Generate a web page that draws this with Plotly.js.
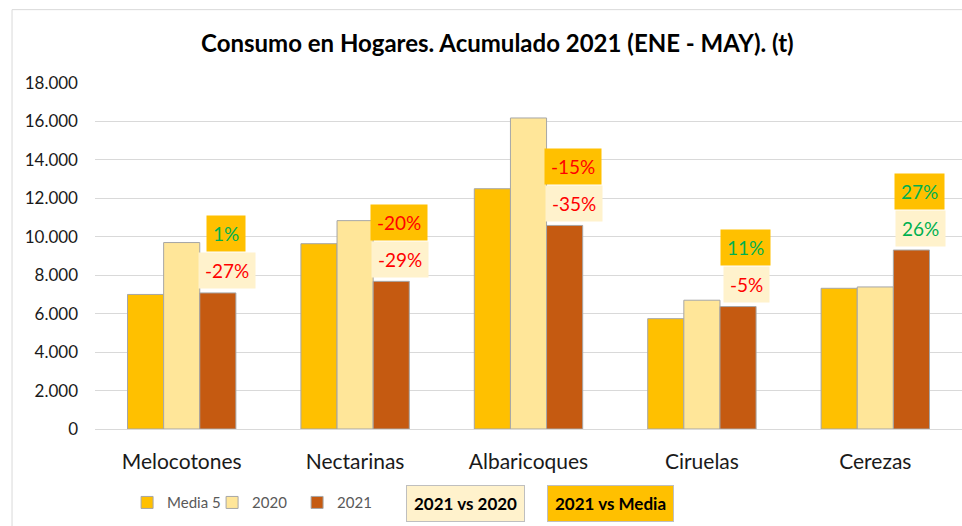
<!DOCTYPE html>
<html>
<head>
<meta charset="utf-8">
<script src="https://cdn.plot.ly/plotly-3.0.1.min.js"></script>
<style>
  html, body { margin: 0; padding: 0; background: #fff; }
  #chart { width: 962px; height: 526px; }
</style>
</head>
<body>
<div id="chart"></div>
<script>
// datos (toneladas)
const categories = ["Melocotones", "Nectarinas", "Albaricoques", "Ciruelas", "Cerezas"];
const media5 = [7000, 9640, 12500, 5740, 7320];
const y2020 = [9700, 10840, 16180, 6700, 7390];
const y2021 = [7080, 7680, 10590, 6370, 9310];
const vs2020Labels = ["-27%", "-29%", "-35%", "-5%", "26%"];
const vsMediaLabels = ["1%", "-20%", "-15%", "11%", "27%"];
const yTicks = [0, 2000, 4000, 6000, 8000, 10000, 12000, 14000, 16000, 18000];

const FONT = "Lato, 'Open Sans', sans-serif";
const barLine = { color: "#A6A6A6", width: 1 };

function labelColor(t) {
  return t.startsWith("-") ? "#FF0000" : "#00B050";
}

const traces = [
  { name: "Media 5", x: categories, y: media5, type: "bar", marker: { color: "#FFC000", line: barLine } },
  { name: "2020", x: categories, y: y2020, type: "bar", marker: { color: "#FFE699", line: barLine } },
  { name: "2021", x: categories, y: y2021, type: "bar", marker: { color: "#C55A11", line: barLine } },
];

// etiquetas de variacion encima de la barra 2021
const annotations = [];
categories.forEach((cat, i) => {
  annotations.push({
    x: cat, y: y2021[i], xref: "x", yref: "y",
    xshift: 45, yshift: 22, yanchor: "middle",
    text: vs2020Labels[i], showarrow: false,
    font: { family: FONT, size: 19, color: labelColor(vs2020Labels[i]) },
    bgcolor: "#FFF2CC", borderpad: 6,
  });
  annotations.push({
    x: cat, y: y2021[i], xref: "x", yref: "y",
    xshift: 44, yshift: 59, yanchor: "middle",
    text: vsMediaLabels[i], showarrow: false,
    font: { family: FONT, size: 19, color: labelColor(vsMediaLabels[i]) },
    bgcolor: "#FFC000", borderpad: 6,
  });
});

// cajas de leyenda de las etiquetas
annotations.push({
  x: 0.427, y: -0.215, xref: "paper", yref: "paper", showarrow: false,
  xanchor: "center", yanchor: "middle",
  text: "<b>2021 vs 2020</b>", font: { family: FONT, size: 17, color: "#000" },
  bgcolor: "#FFF2CC", bordercolor: "#BFBFBF", borderwidth: 1, borderpad: 7,
});
annotations.push({
  x: 0.595, y: -0.215, xref: "paper", yref: "paper", showarrow: false,
  xanchor: "center", yanchor: "middle",
  text: "<b>2021 vs Media</b>", font: { family: FONT, size: 17, color: "#000" },
  bgcolor: "#FFC000", bordercolor: "#BFBFBF", borderwidth: 1, borderpad: 7,
});

const layout = {
  width: 962,
  height: 526,
  margin: { l: 95, r: 0, t: 83, b: 97 },
  paper_bgcolor: "#fff",
  plot_bgcolor: "#fff",
  separators: ",.",
  font: { family: FONT, color: "#1a1a1a" },
  title: {
    text: "<b>Consumo en Hogares. Acumulado 2021 (ENE - MAY). (t)</b>",
    font: { family: FONT, size: 24, color: "#000" },
    x: 0.517, xref: "container", xanchor: "center", y: 0.918, yanchor: "middle",
  },
  barmode: "group",
  bargap: 0.375,
  bargroupgap: 0,
  xaxis: {
    tickfont: { size: 21, color: "#1a1a1a" },
    showline: true, linecolor: "#D9D9D9",
    ticks: "", ticklen: 0,
    ticklabelstandoff: 14,
  },
  yaxis: {
    range: [0, 18000],
    tickvals: yTicks,
    tickformat: ",d",
    tickfont: { size: 17, color: "#1a1a1a" },
    gridcolor: "#D9D9D9",
    zeroline: false,
    ticklabelstandoff: 16,
  },
  showlegend: true,
  legend: {
    orientation: "h",
    x: 0.037, y: -0.213, xanchor: "left", yanchor: "middle",
    font: { size: 15, color: "#595959" },
    itemwidth: 30,
    entrywidthmode: "pixels",
    entrywidth: 40,
    traceorder: "normal",
  },
  shapes: [
    {
      type: "rect", xref: "paper", yref: "paper",
      x0: -0.0957, x1: 1.02, y0: -0.35, y1: 1.212,
      line: { color: "#D9D9D9", width: 1 }, layer: "below",
    },
  ],
  annotations: annotations,
};

Plotly.newPlot("chart", traces, layout, { displayModeBar: false, staticPlot: true });
</script>
</body>
</html>
